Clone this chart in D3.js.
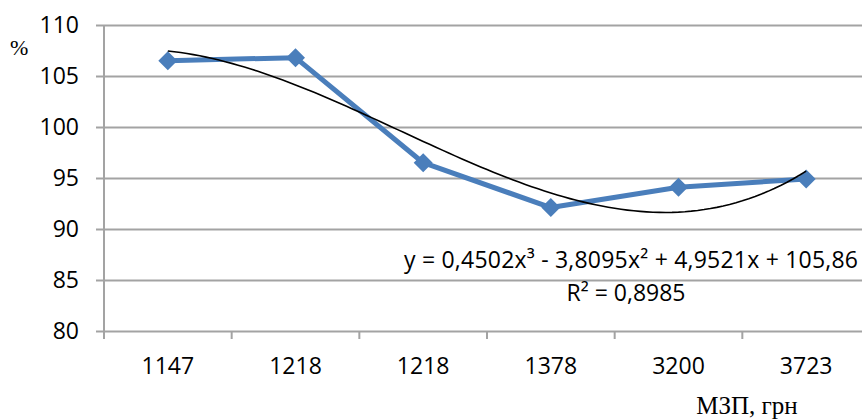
<!DOCTYPE html>
<html>
<head>
<meta charset="utf-8">
<script src="https://cdn.jsdelivr.net/npm/d3@7"></script>
<style>
  html, body { margin: 0; padding: 0; background: #fff; }
  svg { display: block; }
</style>
</head>
<body>
<svg id="chart" width="862" height="419"></svg>
<script>
// Minimum wage levels (category labels) and the matching index, %
const categories = ["1147", "1218", "1218", "1378", "3200", "3723"];
const values = [106.5, 106.8, 96.5, 92.1, 94.1, 94.9];
const yTicks = [80, 85, 90, 95, 100, 105, 110];

// Cubic trend: y = a3*x^3 + a2*x^2 + a1*x + a0, x = 1..6
const trendCoefs = [105.86, 4.9521, -3.8095, 0.4502];
const trendLabel = "y = 0,4502x³ - 3,8095x² + 4,9521x + 105,86";
const r2Label = "R² = 0,8985";

const svg = d3.select("#chart");
const plotLeft = 104, plotRight = 870, plotTop = 25, plotBottom = 331;

const x = d3.scaleBand().domain(d3.range(categories.length)).range([plotLeft, plotRight]).paddingInner(0).paddingOuter(0);
const y = d3.scaleLinear().domain([80, 110]).range([plotBottom, plotTop]);

const gridColor = "#a3a3a3";
const sans = "'Open Sans', 'Noto Sans', sans-serif";
const serif = "'Liberation Serif', 'DejaVu Serif', serif";
const labelSize = 23;

// horizontal gridlines with short ticks to the left of the axis
const yAxis = d3.axisLeft(y).tickValues(yTicks).tickSize(-(plotRight - plotLeft)).tickPadding(0).tickFormat("");
const gy = svg.append("g").attr("transform", `translate(${plotLeft},0)`).call(yAxis);
gy.select(".domain").remove();
gy.selectAll(".tick line").attr("stroke", gridColor).attr("stroke-width", 2).attr("x1", -8);

// y tick labels
svg.append("g").selectAll("text").data(yTicks).join("text")
  .attr("x", 79).attr("y", d => y(d)).attr("dy", "0.36em")
  .attr("text-anchor", "end").attr("font-family", sans).attr("font-size", labelSize).attr("fill", "#000")
  .text(d => d);

// vertical axis line
svg.append("line").attr("x1", plotLeft).attr("x2", plotLeft).attr("y1", plotTop).attr("y2", plotBottom + 8)
  .attr("stroke", gridColor).attr("stroke-width", 2);

// category boundary ticks below the horizontal axis
const bounds = d3.range(categories.length + 1).map(i => plotLeft + i * x.bandwidth());
svg.append("g").selectAll("line").data(bounds).join("line")
  .attr("x1", d => d).attr("x2", d => d).attr("y1", plotBottom).attr("y2", plotBottom + 8)
  .attr("stroke", gridColor).attr("stroke-width", 2);

// category labels
svg.append("g").selectAll("text").data(categories).join("text")
  .attr("x", (d, i) => x(i) + x.bandwidth() / 2).attr("y", 374)
  .attr("text-anchor", "middle").attr("font-family", sans).attr("font-size", labelSize).attr("fill", "#000")
  .text(d => d);

const cx = i => x(i) + x.bandwidth() / 2;

// data line
const line = d3.line().x((d, i) => cx(i)).y(d => y(d));
svg.append("path").datum(values).attr("d", line)
  .attr("fill", "none").attr("stroke", "#4a7ebb").attr("stroke-width", 5).attr("stroke-linejoin", "round");

// diamond markers
const r = 9.5;
const diamondPath = `M0,${-r}L${r},0L0,${r}L${-r},0Z`;
svg.append("g").selectAll("path").data(values).join("path")
  .attr("d", diamondPath)
  .attr("transform", (d, i) => `translate(${cx(i)},${y(d)})`)
  .attr("fill", "#4a7ebb");

// polynomial trend line, evaluated along the category index
const poly = t => trendCoefs.reduce((s, c, k) => s + c * Math.pow(t, k), 0);
const tx = d3.scaleLinear().domain([1, categories.length]).range([cx(0), cx(categories.length - 1)]);
const ts = d3.range(1, categories.length + 0.0001, 0.05);
svg.append("path").datum(ts)
  .attr("d", d3.line().x(t => tx(t)).y(t => y(poly(t))))
  .attr("fill", "none").attr("stroke", "#000").attr("stroke-width", 1.6);

// trend equation and R²
svg.append("text").attr("x", 404).attr("y", 268)
  .attr("textLength", 454).attr("lengthAdjust", "spacing")
  .attr("font-family", sans).attr("font-size", labelSize).attr("fill", "#000").text(trendLabel);
svg.append("text").attr("x", 626).attr("y", 301).attr("text-anchor", "middle")
  .attr("font-family", sans).attr("font-size", labelSize).attr("fill", "#000").text(r2Label);

// axis titles
svg.append("text").attr("x", 10).attr("y", 55).attr("font-family", serif).attr("font-size", 22)
  .attr("fill", "#000").text("%");
svg.append("text").attr("x", 747).attr("y", 414).attr("text-anchor", "middle")
  .attr("font-family", serif).attr("font-size", 25).attr("fill", "#000").text("МЗП, грн");
</script>
</body>
</html>
